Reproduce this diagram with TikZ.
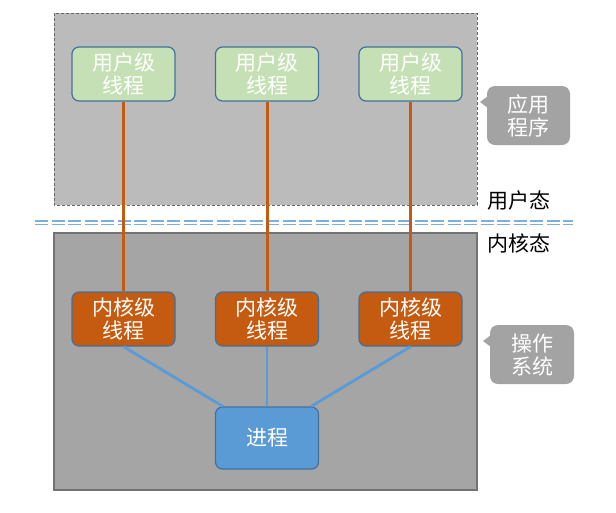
\documentclass[tikz,border=0pt]{standalone}
\usepackage{fontspec}
\setmainfont{Noto Sans CJK SC}
\definecolor{ugreen}{HTML}{C5E0B4}
\definecolor{bord}{HTML}{41719C}
\definecolor{korange}{HTML}{C55A11}
\definecolor{pblue}{HTML}{5B9BD5}
\definecolor{topbg}{HTML}{BBBBBB}
\definecolor{botbg}{HTML}{A5A5A5}
\definecolor{calbg}{HTML}{A3A3A3}
\tikzset{
  thr/.style={draw=bord, line width=1.2pt, rounded corners=7pt, minimum width=103pt, minimum height=54pt, text=white, align=center, font=\fontsize{21}{23}\selectfont, inner sep=0pt},
  ubox/.style={thr, fill=ugreen},
  kbox/.style={thr, fill=korange},
  pbox/.style={thr, fill=pblue, minimum height=62pt},
  oline/.style={draw=korange, line width=3pt},
  bline/.style={draw=pblue, line width=2.8pt},
  callt/.style={text=white, align=center, font=\fontsize{21}{23}\selectfont, inner sep=0pt},
  lab/.style={text=black, font=\fontsize{21}{23}\selectfont, inner sep=0pt, anchor=west},
}
\begin{document}
\begin{tikzpicture}[x=1pt,y=-1pt]
\useasboundingbox (0,0) rectangle (616,512);
\fill[white] (0,0) rectangle (616,512);
% backgrounds
\draw[fill=topbg, draw=gray!80!black, line width=0.8pt, dash pattern=on 3pt off 2pt] (54,13) rectangle (477,205);
\draw[fill=botbg, draw=gray!90!black, line width=1.2pt] (54,233) rectangle (477,490);
% separator
\draw[pblue!80, line width=1.6pt, dash pattern=on 13pt off 3.5pt] (35,221) -- (573,221);
\draw[pblue!80, line width=1.6pt, dash pattern=on 13pt off 3.5pt] (35,224.5) -- (573,224.5);
% nodes
\node[ubox] (u1) at (123.5,74) {用户级\\线程};
\node[ubox] (u2) at (267,74) {用户级\\线程};
\node[ubox] (u3) at (410.5,74) {用户级\\线程};
\node[kbox] (k1) at (123.5,319) {内核级\\线程};
\node[kbox] (k2) at (267,319) {内核级\\线程};
\node[kbox] (k3) at (410.5,319) {内核级\\线程};
\node[pbox] (p) at (267,438) {进程};
% connectors
\draw[oline] (u1.south) -- (k1.north);
\draw[oline] (u2.south) -- (k2.north);
\draw[oline] (u3.south) -- (k3.north);
\draw[bline] (k1.south) -- ([xshift=8pt]p.north west);
\draw[bline] (k2.south) -- (p.north);
\draw[bline] (k3.south) -- ([xshift=-8pt]p.north east);
% callouts
\fill[calbg, rounded corners=8pt] (487,86) rectangle (570,145);
\fill[calbg] (488,96) -- (480,102) -- (488,108) -- cycle;
\node[callt] (c1) at (528.5,115.5) {应用\\程序};
\fill[calbg, rounded corners=8pt] (490,325) rectangle (574,384);
\fill[calbg] (491,335) -- (483,341) -- (491,347) -- cycle;
\node[callt] (c2) at (532,354.5) {操作\\系统};
% labels
\node[lab] (l1) at (487,201) {用户态};
\node[lab] (l2) at (487,243) {内核态};
\end{tikzpicture}
\end{document}
